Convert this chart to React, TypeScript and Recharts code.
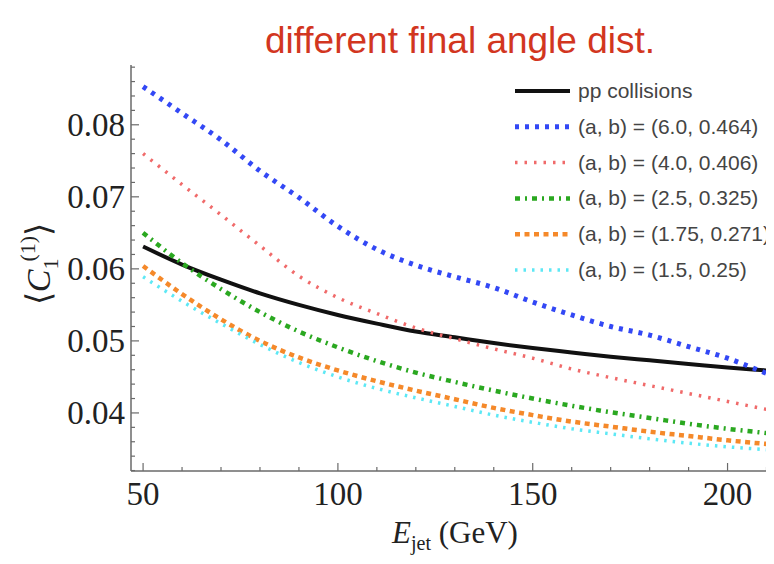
import React from 'react';
import { LineChart, Line, XAxis, YAxis } from 'recharts';

// E_jet (GeV) sample points
const energy = [50, 60, 70, 80, 90, 100, 110, 120, 130, 140, 150, 160, 170, 180, 190, 200, 210, 215];

const ppCollisions = [0.0631, 0.0606, 0.0585, 0.0566, 0.0550, 0.0536, 0.0524, 0.0513, 0.0505, 0.0497, 0.0490, 0.0484, 0.0478, 0.0473, 0.0468, 0.0463, 0.0459, 0.0457];
const ab60_464 = [0.0853, 0.0816, 0.0779, 0.0736, 0.0699, 0.0659, 0.0627, 0.0605, 0.0589, 0.0574, 0.0554, 0.0536, 0.0520, 0.0508, 0.0492, 0.0476, 0.0455, 0.0445];
const ab40_406 = [0.0760, 0.0717, 0.0675, 0.0632, 0.0590, 0.0560, 0.0538, 0.0518, 0.0503, 0.0489, 0.0476, 0.0461, 0.0449, 0.0438, 0.0427, 0.0416, 0.0405, 0.0400];
const ab25_325 = [0.0650, 0.0608, 0.0572, 0.0540, 0.0513, 0.0491, 0.0472, 0.0456, 0.0443, 0.0431, 0.0420, 0.0410, 0.0401, 0.0393, 0.0385, 0.0378, 0.0372, 0.0369];
const ab175_271 = [0.0604, 0.0565, 0.0530, 0.0500, 0.0477, 0.0459, 0.0444, 0.0431, 0.0419, 0.0407, 0.0397, 0.0388, 0.0381, 0.0374, 0.0368, 0.0362, 0.0357, 0.0355];
const ab15_25 = [0.0589, 0.0555, 0.0524, 0.0495, 0.0470, 0.0450, 0.0434, 0.0421, 0.0409, 0.0397, 0.0387, 0.0378, 0.0371, 0.0364, 0.0358, 0.0353, 0.0349, 0.0347];

const xTicks = [50, 60, 70, 80, 90, 100, 110, 120, 130, 140, 150, 160, 170, 180, 190, 200, 210];
const yTicks = [
  0.032, 0.034, 0.036, 0.038, 0.04, 0.042, 0.044, 0.046, 0.048, 0.05, 0.052, 0.054, 0.056, 0.058,
  0.06, 0.062, 0.064, 0.066, 0.068, 0.07, 0.072, 0.074, 0.076, 0.078, 0.08, 0.082, 0.084, 0.086, 0.088,
];

const series = [
  { key: 'pp', name: 'pp collisions', values: ppCollisions, color: '#111111', width: 4, dash: undefined },
  { key: 'a60', name: '(a, b) = (6.0, 0.464)', values: ab60_464, color: '#3348f5', width: 5, dash: '4 6' },
  { key: 'a40', name: '(a, b) = (4.0, 0.406)', values: ab40_406, color: '#f06a6a', width: 3.5, dash: '2.5 7' },
  { key: 'a25', name: '(a, b) = (2.5, 0.325)', values: ab25_325, color: '#2aa820', width: 4.5, dash: '5 5 2 5' },
  { key: 'a175', name: '(a, b) = (1.75, 0.271)', values: ab175_271, color: '#f5892a', width: 4.5, dash: '5 4.5' },
  { key: 'a15', name: '(a, b) = (1.5, 0.25)', values: ab15_25, color: '#5de8f5', width: 3.5, dash: '2.5 6' },
];

const data = energy.map((e, i) => {
  const row: Record<string, number> = { e };
  series.forEach(s => { row[s.key] = s.values[i]; });
  return row;
});

const FRAME = '#6a6a6a';
const SERIF = "'Liberation Serif', 'Times New Roman', serif";
const SANS = "'Liberation Sans', Arial, sans-serif";

const isMajorX = (v: number) => v % 50 === 0;
const isMajorY = (v: number) => Math.abs(v * 100 - Math.round(v * 100)) < 1e-6;

const BottomTick = ({ x, y, payload }: any) => {
  const major = isMajorX(payload.value);
  return (
    <g>
      <line x1={x} y1={y} x2={x} y2={y - (major ? 8 : 4)} stroke={FRAME} strokeWidth={1.2} />
      {major && (
        <text x={x} y={y + 34} textAnchor="middle" fontFamily={SERIF} fontSize={33} fill="#222">
          {payload.value}
        </text>
      )}
    </g>
  );
};

const TopTick = ({ x, y, payload }: any) => (
  <line x1={x} y1={y} x2={x} y2={y + (isMajorX(payload.value) ? 8 : 4)} stroke={FRAME} strokeWidth={1.2} />
);

const LeftTick = ({ x, y, payload }: any) => {
  const major = isMajorY(payload.value);
  return (
    <g>
      <line x1={x} y1={y} x2={x + (major ? 8 : 4)} y2={y} stroke={FRAME} strokeWidth={1.2} />
      {major && (
        <text x={x - 6} y={y + 11} textAnchor="end" fontFamily={SERIF} fontSize={33} fill="#222">
          {payload.value.toFixed(2)}
        </text>
      )}
    </g>
  );
};

export default function App() {
  return (
    <div style={{ position: 'relative', width: 766, height: 556, overflow: 'hidden', background: '#fff' }}>
      <LineChart width={800} height={556} data={data} margin={{ top: 57, right: 22, bottom: 0, left: 0 }}>
        <XAxis
          xAxisId="x"
          dataKey="e"
          type="number"
          domain={[46.9, 215]}
          ticks={xTicks}
          interval={0}
          allowDataOverflow
          height={93}
          tickSize={0}
          tickMargin={0}
          tickLine={false}
          axisLine={{ stroke: FRAME, strokeWidth: 1.5 }}
          tick={<BottomTick />}
        />
        <XAxis
          xAxisId="top"
          orientation="top"
          dataKey="e"
          type="number"
          domain={[46.9, 215]}
          ticks={xTicks}
          interval={0}
          allowDataOverflow
          height={0}
          tickSize={0}
          tickMargin={0}
          tickLine={false}
          axisLine={{ stroke: FRAME, strokeWidth: 1.5 }}
          tick={<TopTick />}
        />
        <YAxis
          yAxisId="y"
          type="number"
          domain={[0.03194, 0.0883]}
          ticks={yTicks}
          interval={0}
          allowDataOverflow
          width={123}
          tickSize={0}
          tickMargin={0}
          tickLine={false}
          axisLine={{ stroke: FRAME, strokeWidth: 1.5 }}
          tick={<LeftTick />}
        />
        {series.map(s => (
          <Line
            key={s.key}
            xAxisId="x"
            yAxisId="y"
            dataKey={s.key}
            name={s.name}
            type="monotone"
            stroke={s.color}
            strokeWidth={s.width}
            strokeDasharray={s.dash}
            dot={false}
            activeDot={false}
            isAnimationActive={false}
          />
        ))}
      </LineChart>

      {/* title, axis labels and legend drawn over the chart */}
      <svg width={766} height={556} style={{ position: 'absolute', left: 0, top: 0, pointerEvents: 'none' }}>
        <text x={452} y={45} textAnchor="middle" fontFamily={SANS} fontSize={37} fill="#d2361f">
          different final angle dist.
        </text>

        <text x={447} y={535} textAnchor="middle" fontFamily={SERIF} fontSize={31} fill="#222">
          <tspan fontStyle="italic">E</tspan>
          <tspan fontSize={20} dy={7}>jet</tspan>
          <tspan dy={-7}> (GeV)</tspan>
        </text>

        <text
          transform="translate(42, 256) rotate(-90)"
          textAnchor="middle"
          fontFamily={SERIF}
          fontSize={34}
          fill="#222"
        >
          <tspan>⟨</tspan>
          <tspan fontStyle="italic">C</tspan>
          <tspan fontSize={22} dy={8}>1</tspan>
          <tspan fontSize={22} dx={-3} dy={-23}>(1)</tspan>
          <tspan dy={15}>⟩</tspan>
        </text>

        {series.map((s, i) => {
          const cy = 83 + i * 35.8;
          return (
            <g key={s.key}>
              <line x1={507} y1={cy} x2={562} y2={cy} stroke={s.color} strokeWidth={s.width} strokeDasharray={s.dash} />
              <text x={570} y={cy + 7} fontFamily={SANS} fontSize={21} fill="#444">
                {s.name}
              </text>
            </g>
          );
        })}
      </svg>
    </div>
  );
}
